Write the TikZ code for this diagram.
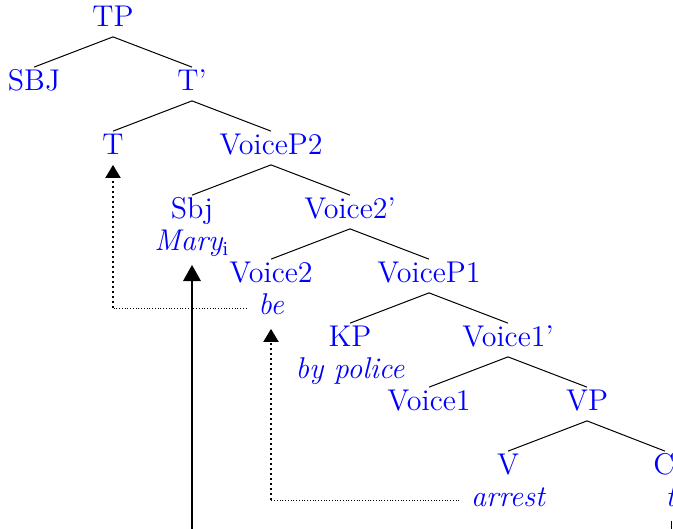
\documentclass[tikz,border=0pt]{standalone}
\usepackage{fontspec}
\usetikzlibrary{arrows.meta, positioning}

\begin{document}
\begin{tikzpicture} [x=0.4pt, y=-0.4pt, node distance = 25.6pt and 31.6pt, on grid,
        cat/.style = {text=blue, font=\fontsize{12}{14}\selectfont,
            text height=8pt, text depth=2.5pt, inner xsep=1pt, inner ysep=1.3pt},
        lex/.style = {cat, font=\fontsize{12}{14}\selectfont\itshape,
            inner xsep=4.5pt, inner ysep=2.9pt},
        branch/.style = {line width=0.4pt},
        movethin/.style = {line width=0.4pt, dash pattern=on 0.4pt off 0.7pt},
        movedot/.style = {line width=0.8pt, dash pattern=on 0.8pt off 1.2pt,
            -{Triangle[length=5.2pt, width=6pt]}},
        movesolid/.style = {line width=0.9pt, -{Triangle[length=6.5pt, width=7pt]}}]
        \clip (0,0) rectangle (673,528);

        \node (TP) [cat] at (113,20) {TP};
        \node (SBJ) [cat, below left = of TP] {SBJ};
        \node (Tbar) [cat, below right = of TP] {T'};
        \node (T) [cat, below left = of Tbar] {T};
        \node (VoiceP2) [cat, below right = of Tbar] {VoiceP2};
        \node (Sbj) [cat, below left = of VoiceP2] {Sbj};
        \node (Mary) [lex, below = 12.8pt of Sbj] {Mary\textsubscript{\upshape i}};
        \node (Voice2bar) [cat, below right = of VoiceP2] {Voice2'};
        \node (Voice2) [cat, below left = of Voice2bar] {Voice2};
        \node (be) [lex, below = 12.8pt of Voice2] {be};
        \node (VoiceP1) [cat, below right = of Voice2bar] {VoiceP1};
        \node (KP) [cat, below left = of VoiceP1] {KP};
        \node (police) [lex, below = 12.8pt of KP] {by police};
        \node (Voice1bar) [cat, below right = of VoiceP1] {Voice1'};
        \node (Voice1) [cat, below left = of Voice1bar] {Voice1};
        \node (VP) [cat, below right = of Voice1bar] {VP};
        \node (V) [cat, below left = of VP] {V};
        \node (arrest) [lex, below = 12.8pt of V] {arrest};
        \node (CP) [cat, below right = 25.6pt and 34.8pt of VP] {CP};
        \node (ti) [lex, below = 12.8pt of CP] {t\textsubscript{\upshape i}};
        \coordinate (floor) at (0,560);

        \path [branch] (TP.south) edge (SBJ.north) edge (Tbar.north);
        \path [branch] (Tbar.south) edge (T.north) edge (VoiceP2.north);
        \path [branch] (VoiceP2.south) edge (Sbj.north) edge (Voice2bar.north);
        \path [branch] (Voice2bar.south) edge (Voice2.north) edge (VoiceP1.north);
        \path [branch] (VoiceP1.south) edge (KP.north) edge (Voice1bar.north);
        \path [branch] (Voice1bar.south) edge (Voice1.north) edge (VP.north);
        \path [branch] (VP.south) edge (V.north) edge ([xshift=-3.6pt]CP.north);

        % head movement
        \path [movethin] (be.west) edge (be.west -| T.south);
        \path [movedot] (be.west -| T.south) edge (T.south);
        \path [movethin] (arrest.west) edge (arrest.west -| be.south);
        \path [movedot] (arrest.west -| be.south) edge (be.south);

        % A-movement of the object
        \draw [branch] ([xshift=-1.2pt]ti.south) -- ([xshift=-1.2pt]ti.south |- floor)
            -- (Mary.south |- floor);
        \path [movesolid] (Mary.south |- floor) edge (Mary.south);
    \end{tikzpicture}
\end{document}
